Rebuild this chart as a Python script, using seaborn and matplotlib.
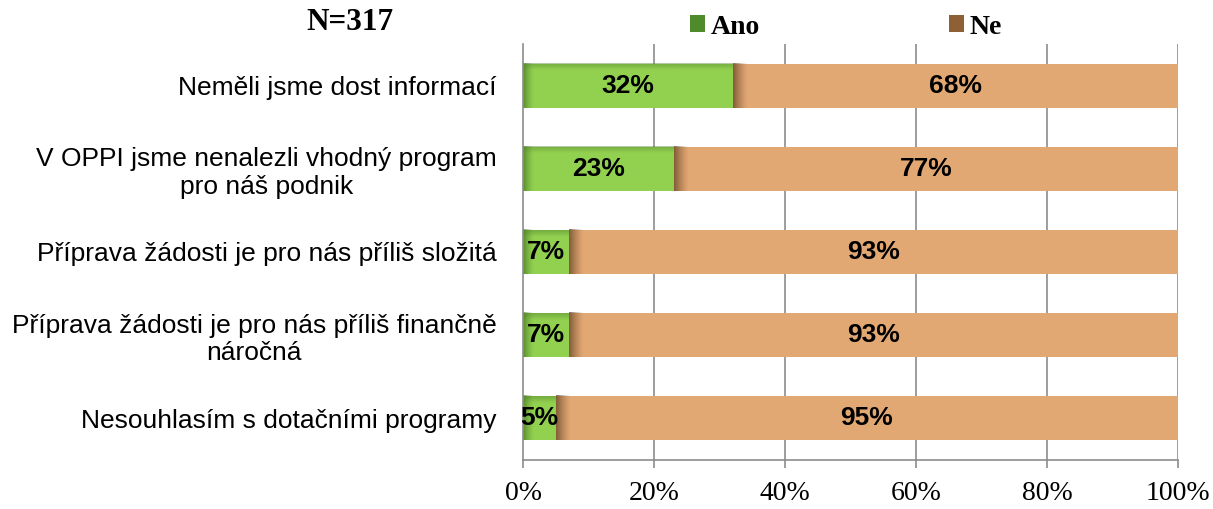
import matplotlib
matplotlib.use("Agg")
import matplotlib.pyplot as plt
import seaborn as sns
import pandas as pd
import numpy as np
from matplotlib.patches import Patch
from matplotlib.colors import to_rgb

categories = [
    "Neměli jsme dost informací",
    "V OPPI jsme nenalezli vhodný program\npro náš podnik",
    "Příprava žádosti je pro nás příliš složitá",
    "Příprava žádosti je pro nás příliš finančně\nnáročná",
    "Nesouhlasím s dotačními programy",
]
ano = [32, 23, 7, 7, 5]
ne = [68, 77, 93, 93, 95]
xticks = [0, 20, 40, 60, 80, 100]
xticklabels = ["0%", "20%", "40%", "60%", "80%", "100%"]

df = pd.DataFrame({"cat": categories, "Ano": ano, "Ne": ne})
df["total"] = df["Ano"] + df["Ne"]

sns.set_theme(style="white")
plt.rcParams["font.family"] = ["Liberation Sans", "DejaVu Sans"]
plt.rcParams["text.color"] = "black"
plt.rcParams["xtick.color"] = "black"
plt.rcParams["ytick.color"] = "black"

fig = plt.figure(figsize=(12.13, 5.09), dpi=100)
ax = fig.add_axes([523/1213, 1 - 460/509, (1178-523)/1213, (460-44)/509])

green = "#92D050"
orange = "#E2A874"
grid_c = "#8C8C8C"
bw = 0.53

sns.barplot(data=df, y="cat", x="total", color=orange, orient="h", width=bw,
            ax=ax, saturation=1, linewidth=0, zorder=3)
sns.barplot(data=df, y="cat", x="Ano", color=green, orient="h", width=bw,
            ax=ax, saturation=1, linewidth=0, zorder=4)

# subtle inner shadows imitating the original bevel effect
def shadow(x0, w, yc, rgb, width_units, alpha_max, z):
    w_sh = min(width_units, w)
    grad = np.linspace(alpha_max, 0, 50) ** 1.3
    img = np.zeros((1, 50, 4))
    img[..., :3] = rgb
    img[..., 3] = grad
    ax.imshow(img, extent=(x0, x0 + w_sh, yc + bw / 2, yc - bw / 2),
              aspect="auto", zorder=z, interpolation="bilinear")

for i, (a, n) in enumerate(zip(ano, ne)):
    shadow(0, a, i, to_rgb("#3E6E1E"), 1.6, 0.75, 4.5)
    shadow(a, n, i, to_rgb("#6B4A2A"), 2.2, 0.85, 3.5)
    img = np.zeros((30, 1, 4))
    img[..., :3] = to_rgb("#4E7F2A")
    img[:, 0, 3] = np.linspace(0.45, 0, 30)
    ax.imshow(img, extent=(0, a, i - bw / 2 + 0.08, i - bw / 2),
              aspect="auto", zorder=4.6, interpolation="bilinear")

# value labels
for i, (a, n) in enumerate(zip(ano, ne)):
    ax.text(a / 2, i, f"{a}%", ha="center", va="center", fontsize=19,
            fontweight="bold", color="black", zorder=6)
    ax.text(a + n / 2, i, f"{n}%", ha="center", va="center", fontsize=19,
            fontweight="bold", color="black", zorder=6)

ax.set_xlim(0, 100)
ax.set_ylim(len(categories) - 0.5, -0.5)
ax.set_xlabel("")
ax.set_ylabel("")
ax.set_xticks(xticks)
ax.set_xticklabels(xticklabels, fontsize=20, family="Liberation Serif")
ax.set_yticks(np.arange(len(categories)))
ax.set_yticklabels(categories, fontsize=19, multialignment="center")
ax.tick_params(axis="y", length=0, pad=19)
ax.tick_params(axis="x", length=6, color=grid_c, width=1.2, direction="out", pad=9)
ax.xaxis.set_ticks_position("bottom")
ax.set_yticks(np.arange(-0.5, len(categories), 1), minor=True)
ax.tick_params(axis="y", which="minor", length=6, color=grid_c, width=1.2, direction="out")

for x in xticks[1:]:
    ax.axvline(x, color=grid_c, lw=1.2, zorder=1)

for s in ["top", "right"]:
    ax.spines[s].set_visible(False)
for s in ["left", "bottom"]:
    ax.spines[s].set_color(grid_c)
    ax.spines[s].set_linewidth(1.2)
    ax.spines[s].set_zorder(5)

fig.text(350/1213, 1 - 22/509, "N=317", ha="center", va="center",
         fontsize=22.5, fontweight="bold", family="Liberation Serif")

handles = [Patch(facecolor="#4F8A2B", edgecolor="none", label="Ano"),
           Patch(facecolor="#8E6036", edgecolor="none", label="Ne")]
fig.legend(handles=handles, loc="center left", bbox_to_anchor=(665/1213, 1 - 27/509),
           ncol=2, frameon=False, handlelength=0.55, handleheight=0.55,
           handletextpad=0.2, columnspacing=6.8,
           prop={"family": "Liberation Serif", "weight": "bold", "size": 20})

fig.savefig("out.png", dpi=100)
